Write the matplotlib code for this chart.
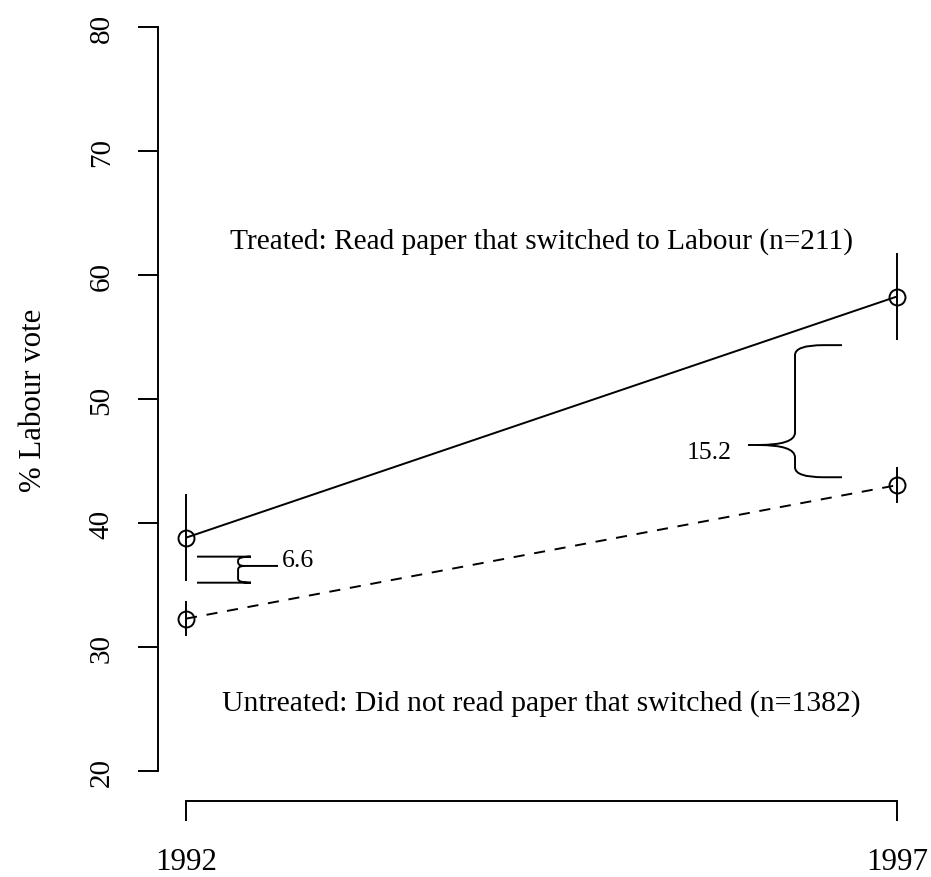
import matplotlib
matplotlib.use("Agg")
from matplotlib import pyplot as plt
from matplotlib.path import Path
from matplotlib.patches import PathPatch

plt.rcParams["font.family"] = ["Liberation Serif", "DejaVu Serif"]
plt.rcParams["lines.scale_dashes"] = False

years = [1992, 1997]
treated = [38.83, 58.27]
treated_ci = [3.43, 3.43]
untreated = [32.3, 43.06]
untreated_ci = [1.35, 1.35]
yticks = [20, 30, 40, 50, 60, 70, 80]
treated_label = "Treated: Read paper that switched to Labour (n=211)"
untreated_label = "Untreated: Did not read paper that switched (n=1382)"
gap_labels = ["6.6", "15.2"]

W, H = 931, 878
fig = plt.figure(figsize=(W / 100, H / 100), dpi=100)
# plot region in pixels: left 157.6, right 925.4, top -1.8, bottom 802
ax = fig.add_axes([157.6 / W, (H - 802) / H, 767.8 / W, 803.8 / H])
ax.set_xlim(1991.8, 1997.2)
ax.set_ylim(17.6, 82.4)
ax.patch.set_alpha(0)

lw = 1.4
ax.plot(years, treated, color="black", lw=lw, solid_capstyle="butt")
ax.plot(years, untreated, color="black", lw=lw, dashes=(8, 7))
ax.plot(years, treated, "o", ms=11.5, mfc="none", mec="black", mew=lw)
ax.plot(years, untreated, "o", ms=11.5, mfc="none", mec="black", mew=lw)
for x, m, e in zip(years, treated, treated_ci):
    ax.plot([x, x], [m - e, m + e], color="black", lw=lw)
for x, m, e in zip(years, untreated, untreated_ci):
    ax.plot([x, x], [m - e, m + e], color="black", lw=lw)


def brace(x_end, x_v, x_tip, x_stub, y_top, y_mid, y_bot, cx, cy, ty):
    verts = [(x_end, y_top), (x_v + cx, y_top), (x_v, y_top), (x_v, y_top - cy),
             (x_v, y_mid + ty), (x_v, y_mid), (x_tip, y_mid),
             (x_stub, y_mid), (x_tip, y_mid),
             (x_v, y_mid), (x_v, y_mid - ty),
             (x_v, y_bot + cy), (x_v, y_bot), (x_v + cx, y_bot), (x_end, y_bot)]
    codes = [Path.MOVETO, Path.LINETO, Path.CURVE3, Path.CURVE3,
             Path.LINETO, Path.CURVE3, Path.CURVE3,
             Path.LINETO, Path.MOVETO,
             Path.CURVE3, Path.CURVE3,
             Path.LINETO, Path.CURVE3, Path.CURVE3, Path.LINETO]
    ax.add_patch(PathPatch(Path(verts, codes), fill=False, lw=lw, ec="black"))


brace(1992.077, 1992.366, 1992.41, 1992.647, 37.3, 36.55, 35.2, 0.09, 0.3, 0.3)
brace(1996.613, 1996.283, 1996.022, 1995.952, 54.35, 46.3, 43.7, 0.2, 0.8, 1.0)

ax.text(1992.675, 36.55, gap_labels[0], fontsize=18.5, ha="left", va="baseline")
ax.text(1995.84, 45.24, gap_labels[1], fontsize=18.5, ha="right", va="baseline")
ax.text(1994.5, 62.2, treated_label, fontsize=21.2, ha="center", va="baseline")
ax.text(1994.5, 25.0, untreated_label, fontsize=21.4, ha="center", va="baseline")

for s in ["top", "right"]:
    ax.spines[s].set_visible(False)
ax.spines["left"].set_bounds(20, 80)
ax.spines["bottom"].set_bounds(1992, 1997)
ax.spines["left"].set_linewidth(lw)
ax.spines["bottom"].set_linewidth(lw)

ax.set_yticks(yticks)
ax.set_yticklabels([str(v) for v in yticks], rotation=90, va="center")
ax.set_xticks(years)
ax.set_xticklabels([str(y) for y in years])
ax.tick_params(axis="y", length=14.4, width=lw, labelsize=21, pad=16.5)
ax.tick_params(axis="x", length=14.4, width=lw, labelsize=22.3, pad=19)
ax.set_ylabel("% Labour vote", fontsize=22.2, labelpad=29)

fig.savefig("out.png", dpi=100)
